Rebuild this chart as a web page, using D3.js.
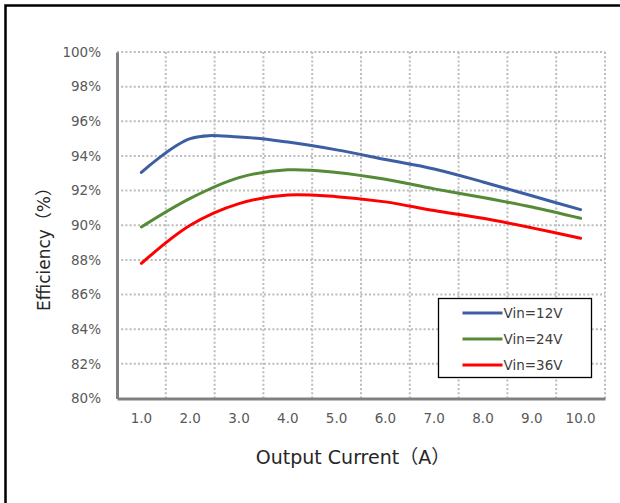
<!DOCTYPE html>
<html>
<head>
<meta charset="utf-8">
<script src="https://cdn.jsdelivr.net/npm/d3@7"></script>
<style>
  body { margin: 0; background: #fff; }
  svg { display: block; }
</style>
</head>
<body>
<svg></svg>
<script>
const width = 620;
const height = 503;

// values
const currents = ["1.0", "2.0", "3.0", "4.0", "5.0", "6.0", "7.0", "8.0", "9.0", "10.0"];
const vin12 = [93.05, 95.0, 95.1, 94.8, 94.35, 93.8, 93.25, 92.5, 91.7, 90.9];
const vin24 = [89.9, 91.55, 92.75, 93.2, 93.05, 92.65, 92.1, 91.6, 91.05, 90.4];
const vin36 = [87.8, 90.0, 91.25, 91.75, 91.65, 91.35, 90.85, 90.4, 89.85, 89.25];
const seriesNames = ["Vin=12V", "Vin=24V", "Vin=36V"];
const yTicks = [80, 82, 84, 86, 88, 90, 92, 94, 96, 98, 100];

const colors = ["#3c5fa3", "#558a37", "#ff0000"];
const series = [vin12, vin24, vin36];

const svg = d3.select("svg").attr("width", width).attr("height", height);

// outer frame (runs off the right and bottom edge)
svg.append("rect")
  .attr("x", 5.5).attr("y", 5.5)
  .attr("width", 700).attr("height", 600)
  .attr("fill", "none")
  .attr("stroke", "#000")
  .attr("stroke-width", 2.5);

const plotL = 117, plotR = 605, plotT = 52, plotB = 398.5;

const x = d3.scaleBand().domain(currents).range([plotL, plotR]).padding(0);
const y = d3.scaleLinear().domain([80, 100]).range([plotB, plotT]);
const cx = c => x(c) + x.bandwidth() / 2;

// horizontal grid
svg.append("g")
  .selectAll("line")
  .data(yTicks.filter(d => d > 80))
  .join("line")
  .attr("x1", plotL).attr("x2", plotR)
  .attr("y1", d => y(d)).attr("y2", d => y(d))
  .attr("stroke", "#bcbcbc")
  .attr("stroke-width", 2)
  .attr("stroke-dasharray", "2,2.2");

// vertical grid on category boundaries
svg.append("g")
  .selectAll("line")
  .data(currents)
  .join("line")
  .attr("x1", d => x(d) + x.bandwidth()).attr("x2", d => x(d) + x.bandwidth())
  .attr("y1", plotT).attr("y2", plotB)
  .attr("stroke", "#bcbcbc")
  .attr("stroke-width", 2)
  .attr("stroke-dasharray", "2,2.2");

// y axis
const yAxis = svg.append("g")
  .attr("transform", `translate(${plotL},0)`)
  .call(d3.axisLeft(y).tickValues(yTicks).tickFormat(d => d + "%").tickSize(0).tickPadding(16));
yAxis.select(".domain").attr("stroke", "#808080").attr("stroke-width", 3);
yAxis.selectAll("text")
  .attr("font-family", "DejaVu Sans, sans-serif")
  .attr("font-size", 13.5)
  .attr("fill", "#595959");

// x axis
const xAxis = svg.append("g")
  .attr("transform", `translate(0,${plotB})`)
  .call(d3.axisBottom(x).tickSize(0).tickPadding(15));
xAxis.select(".domain").attr("stroke", "#808080").attr("stroke-width", 3);
xAxis.selectAll("text")
  .attr("font-family", "DejaVu Sans, sans-serif")
  .attr("font-size", 13.5)
  .attr("fill", "#595959");

// lines
const line = d3.line()
  .x((d, i) => cx(currents[i]))
  .y(d => y(d))
  .curve(d3.curveCatmullRom.alpha(0.5));

svg.append("g")
  .selectAll("path")
  .data(series)
  .join("path")
  .attr("d", d => line(d))
  .attr("fill", "none")
  .attr("stroke", (d, i) => colors[i])
  .attr("stroke-width", 3)
  .attr("stroke-linecap", "round");

// axis titles
svg.append("text")
  .attr("x", 353)
  .attr("y", 464)
  .attr("text-anchor", "middle")
  .attr("font-family", "DejaVu Sans, Noto Sans CJK JP, sans-serif")
  .attr("font-size", 19)
  .attr("fill", "#262626")
  .text("Output Current（A）");

svg.append("text")
  .attr("transform", "translate(50,245) rotate(-90)")
  .attr("text-anchor", "middle")
  .attr("font-family", "DejaVu Sans, Noto Sans CJK JP, sans-serif")
  .attr("font-size", 17)
  .attr("fill", "#262626")
  .text("Efficiency（%）");

// legend
const legend = svg.append("g").attr("transform", "translate(438.5,298.5)");
legend.append("rect")
  .attr("width", 153).attr("height", 79)
  .attr("fill", "#fff")
  .attr("stroke", "#000")
  .attr("stroke-width", 1.3);
const items = legend.selectAll("g.item")
  .data(seriesNames)
  .join("g")
  .attr("class", "item")
  .attr("transform", (d, i) => `translate(0,${14.5 + i * 26})`);
items.append("line")
  .attr("x1", 24).attr("x2", 64)
  .attr("stroke", (d, i) => colors[i])
  .attr("stroke-width", 3);
items.append("text")
  .attr("x", 65).attr("dy", "0.36em")
  .attr("font-family", "DejaVu Sans, sans-serif")
  .attr("font-size", 13.5)
  .attr("fill", "#404040")
  .text(d => d);
</script>
</body>
</html>
